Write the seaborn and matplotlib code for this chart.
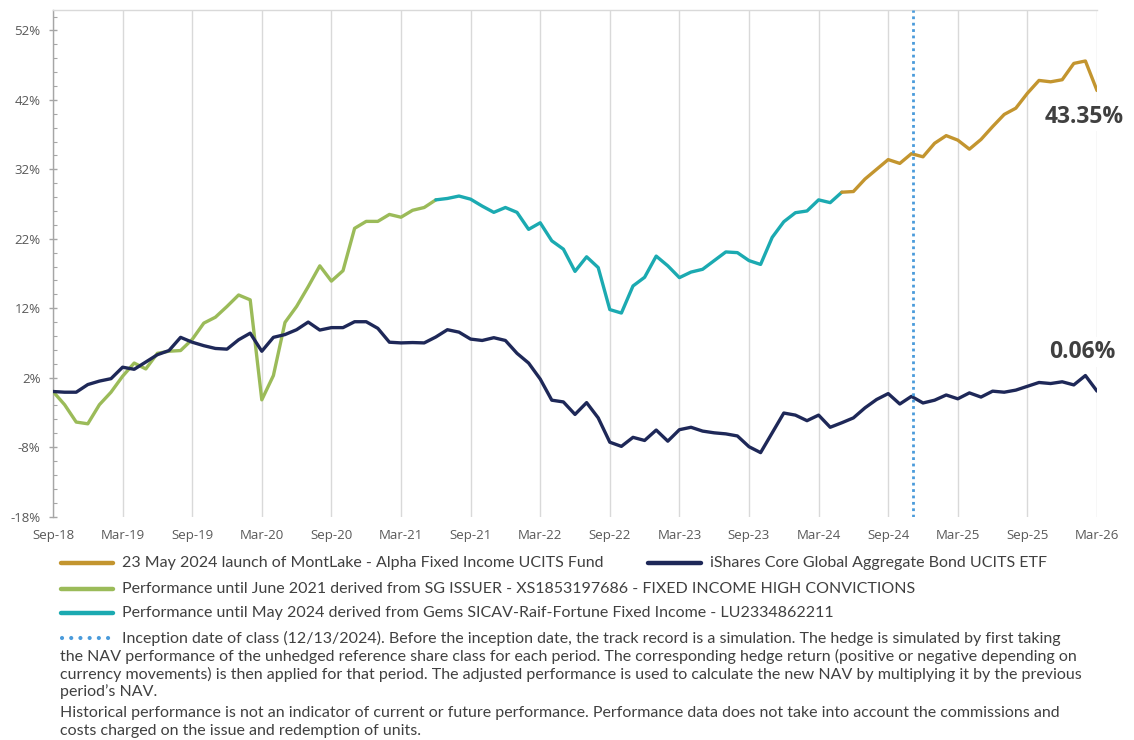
import numpy as np
import pandas as pd
import matplotlib
matplotlib.use("Agg")
import matplotlib.pyplot as plt
import seaborn as sns
from matplotlib.lines import Line2D
from matplotlib.ticker import FixedLocator, MultipleLocator, FuncFormatter

# ---------------- data ----------------
tick_labels = ["Sep-18", "Mar-19", "Sep-19", "Mar-20", "Sep-20", "Mar-21", "Sep-21", "Mar-22",
               "Sep-22", "Mar-23", "Sep-23", "Mar-24", "Sep-24", "Mar-25", "Sep-25", "Mar-26"]

# iShares Core Global Aggregate Bond UCITS ETF (monthly, Sep-18 .. Mar-26)
ishares_values = [0.0, -0.1, -0.1, 1.0, 1.5, 1.85, 3.5, 3.2, 4.25, 5.3,
                  5.9, 7.8, 7.1, 6.6, 6.2, 6.1, 7.45, 8.4, 5.8, 7.8,
                  8.2, 8.9, 10.0, 8.85, 9.2, 9.2, 10.05, 10.05, 9.1, 7.1,
                  7.0, 7.05, 7.0, 7.85, 8.9, 8.55, 7.55, 7.35, 7.75, 7.35,
                  5.5, 4.1, 1.8, -1.25, -1.5, -3.3, -1.6, -3.8, -7.3, -7.9,
                  -6.6, -7.05, -5.55, -7.15, -5.5, -5.15, -5.7, -5.95, -6.1, -6.4,
                  -7.95, -8.8, -5.95, -3.1, -3.4, -4.2, -3.4, -5.15, -4.5, -3.8,
                  -2.35, -1.15, -0.3, -1.8, -0.7, -1.65, -1.25, -0.5, -1.05, -0.2,
                  -0.8, 0.05, -0.1, 0.2, 0.75, 1.3, 1.15, 1.4, 0.95, 2.3,
                  0.06]

# SG ISSUER derived performance (Sep-18 .. Jun-21)
sg_start = 0
sg_values = [0.0, -1.9, -4.4, -4.65, -1.9, -0.1, 2.2, 4.1, 3.25, 5.5,
             5.8, 5.9, 7.5, 9.85, 10.7, 12.25, 13.9, 13.2, -1.2, 2.3,
             9.95, 12.25, 15.1, 18.1, 15.9, 17.4, 23.5, 24.5, 24.5, 25.5,
             25.1, 26.1, 26.5, 27.6]

# Gems SICAV derived performance (Jun-21 .. May-24)
gems_start = 33
gems_values = [27.6, 27.8, 28.15, 27.7, 26.7, 25.8, 26.5, 25.8, 23.35, 24.3,
               21.7, 20.5, 17.3, 19.4, 17.85, 11.8, 11.3, 15.2, 16.45, 19.5,
               18.1, 16.4, 17.2, 17.6, 18.85, 20.1, 20.0, 18.85, 18.3, 22.2,
               24.45, 25.75, 26.0, 27.6, 27.2, 28.7]

# MontLake Alpha Fixed Income UCITS Fund (May-24 .. Mar-26)
montlake_start = 68
montlake_values = [28.7, 28.8, 30.6, 32.0, 33.4, 32.85, 34.25, 33.8, 35.75, 36.85,
                   36.2, 34.9, 36.3, 38.15, 39.9, 40.8, 42.95, 44.8, 44.6, 44.9,
                   47.25, 47.6, 43.35]

inception_month = 74.1
final_labels = ["43.35%", "0.06%"]

legend_labels = [
    "23 May 2024 launch of MontLake - Alpha Fixed Income UCITS Fund",
    "iShares Core Global Aggregate Bond UCITS ETF",
    "Performance until June 2021 derived from SG ISSUER - XS1853197686 - FIXED INCOME HIGH CONVICTIONS",
    "Performance until May 2024 derived from Gems SICAV-Raif-Fortune Fixed Income - LU2334862211",
]
note_lines = [
    "Inception date of class (12/13/2024). Before the inception date, the track record is a simulation. The hedge is simulated by first taking",
    "the NAV performance of the unhedged reference share class for each period. The corresponding hedge return (positive or negative depending on",
    "currency movements) is then applied for that period. The adjusted performance is used to calculate the new NAV by multiplying it by the previous",
    "period\u2019s NAV.",
    "Historical performance is not an indicator of current or future performance. Performance data does not take into account the commissions and",
    "costs charged on the issue and redemption of units.",
]

# ---------------- style ----------------
GOLD = "#C3952F"
NAVY = "#1E2858"
GREEN = "#9BBB59"
TEAL = "#1BAAB1"
DOT = "#4A9BDB"
TXT = "#595959"
DARK = "#404040"

sns.set_theme(style="white")
plt.rcParams["font.family"] = ["Open Sans", "DejaVu Sans"]

W, H = 1134, 740
fig = plt.figure(figsize=(W / 100, H / 100), dpi=100)
ax = fig.add_axes([53 / W, 1 - 516.5 / H, 1044 / W, 506.9 / H])

def fx(x):
    return x / W

def fy(y):
    return 1 - y / H

series = [
    (sg_start, sg_values, GREEN),
    (gems_start, gems_values, TEAL),
    (montlake_start, montlake_values, GOLD),
    (0, ishares_values, NAVY),
]
for start, vals, col in series:
    d = pd.DataFrame({"month": np.arange(start, start + len(vals)), "perf": vals})
    sns.lineplot(data=d, x="month", y="perf", color=col, lw=2.4, ax=ax,
                 legend=False, solid_joinstyle="round", solid_capstyle="round", zorder=3)

ax.axvline(inception_month, color=DOT, lw=2.0, ls=(0, (1, 1.3)), zorder=4)

ax.set_xlim(0, 90)
ax.set_ylim(-18, 55)
ax.set_xlabel("")
ax.set_ylabel("")
ax.set_xticks(np.arange(0, 91, 6))
ax.set_xticklabels(tick_labels)
ax.yaxis.set_major_locator(FixedLocator([-18, -8, 2, 12, 22, 32, 42, 52]))
ax.yaxis.set_minor_locator(MultipleLocator(2))
ax.yaxis.set_major_formatter(FuncFormatter(lambda v, p: f"{v:.0f}%"))

ax.grid(False)
ax.grid(True, axis="x", color="#D9D9D9", lw=1.0, zorder=0)
ax.set_axisbelow(True)

for s in ["bottom", "right"]:
    ax.spines[s].set_visible(False)
ax.spines["top"].set_color("#D9D9D9")
ax.spines["top"].set_linewidth(1.0)
ax.spines["left"].set_color("#A6A6A6")
ax.spines["left"].set_linewidth(1.0)

ax.tick_params(axis="x", length=0, pad=9, labelsize=9.5, labelcolor=TXT, bottom=False)
ax.tick_params(axis="y", which="major", left=True, direction="inout", length=6, width=1,
               color="#A6A6A6", pad=6, labelsize=9.5, labelcolor=TXT)
ax.tick_params(axis="y", which="minor", left=True, direction="in", length=3, width=0.8,
               color="#A6A6A6")

# end-value annotations
ax.text(88.9, 39.6, final_labels[0], ha="center", va="center", fontsize=16.5,
        fontweight="bold", color=DARK, zorder=5,
        bbox=dict(fc="white", ec="none", pad=2))
ax.text(88.7, 5.7, final_labels[1], ha="center", va="center", fontsize=16.5,
        fontweight="bold", color=DARK, zorder=5,
        bbox=dict(fc="white", ec="none", pad=2))

# ---------------- legend & notes ----------------
renderer = fig.canvas.get_renderer()
LEG_FONT = ["Lato", "DejaVu Sans"]

def fit_size(s, target, base=10.0):
    t = fig.text(0, 0, s, fontsize=base, family=LEG_FONT)
    w = t.get_window_extent(renderer).width
    t.remove()
    return base * target / w

fs = np.mean([fit_size(legend_labels[0], 470), fit_size(note_lines[0], 962),
              fit_size(note_lines[1], 1017)])

handles = [
    (563, 61, 113, GOLD, 122, legend_labels[0]),
    (563, 648, 701, NAVY, 710, legend_labels[1]),
    (589, 61, 113, GREEN, 122, legend_labels[2]),
    (613, 61, 113, TEAL, 122, legend_labels[3]),
]
for y, x0, x1, col, tx, lab in handles:
    fig.add_artist(Line2D([fx(x0), fx(x1)], [fy(y), fy(y)], color=col, lw=3.2,
                          solid_capstyle="round"))
    fig.text(fx(tx), fy(y), lab, ha="left", va="center", fontsize=fs, color=DARK,
             family=LEG_FONT)

fig.add_artist(Line2D([fx(62), fx(113)], [fy(638), fy(638)], color=DOT, lw=3.0,
                      ls=(0, (0.01, 2.2)), dash_capstyle="round"))
note_pos = [(122, 638), (60, 656), (60, 674), (60, 692), (60, 713), (60, 731)]
for (x, y), line in zip(note_pos, note_lines):
    fig.text(fx(x), fy(y), line, ha="left", va="center", fontsize=fs, color=DARK,
             family=LEG_FONT)

fig.savefig("out.png", dpi=100, facecolor="white")
